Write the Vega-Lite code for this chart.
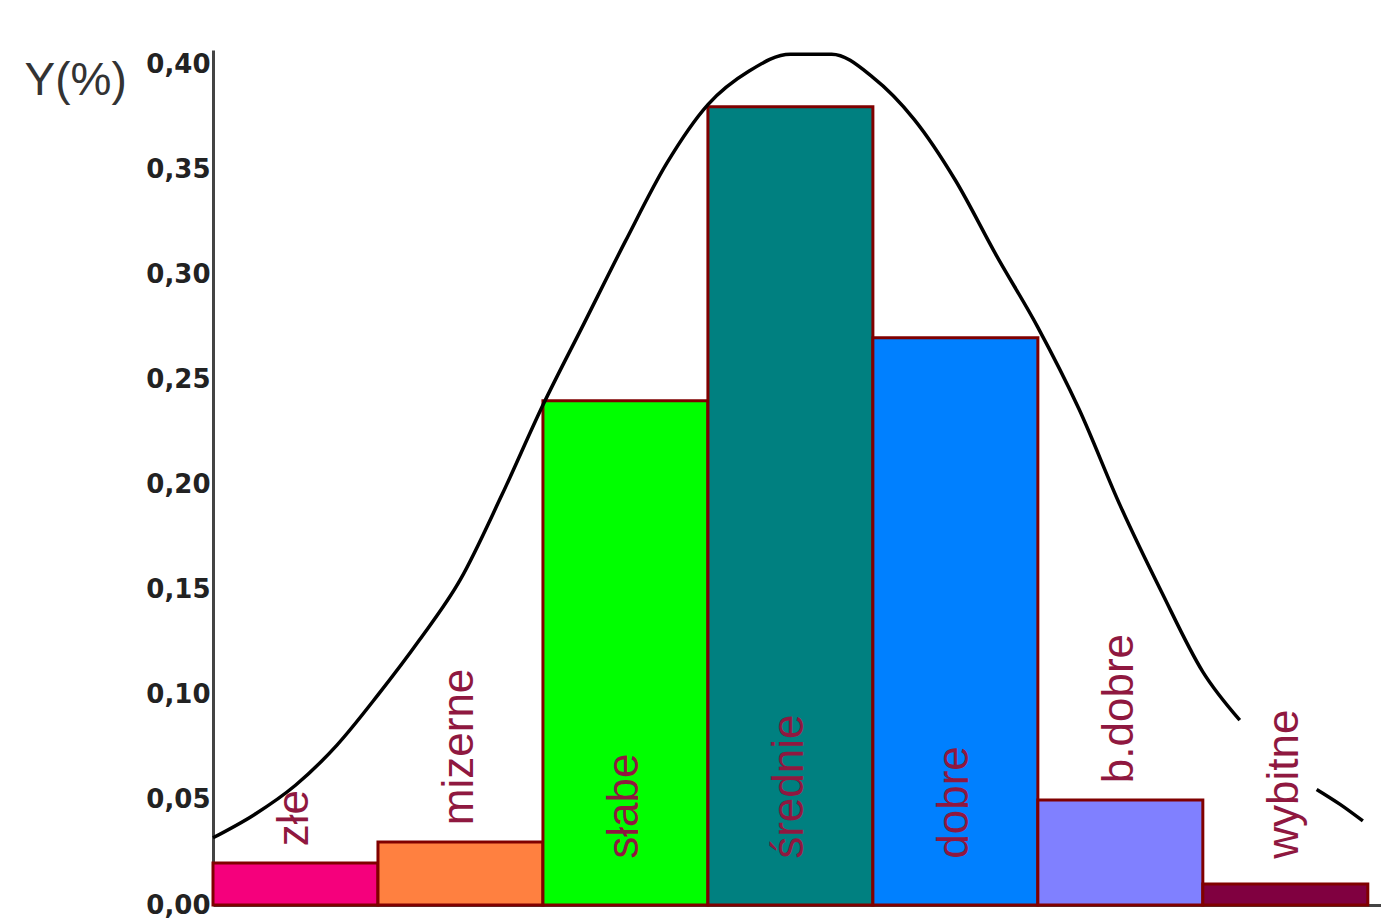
{
  "$schema": "https://vega.github.io/schema/vega-lite/v6.json",
  "width": 1168,
  "height": 855,
  "autosize": "none",
  "padding": {"left": 213, "top": 50, "right": 0, "bottom": 14},
  "background": "white",
  "config": {"view": {"stroke": null}},
  "datasets": {
    "oceny": [
      {"ocena": "złe", "start": 0, "end": 1, "udzial": 0.02},
      {"ocena": "mizerne", "start": 1, "end": 2, "udzial": 0.03},
      {"ocena": "słabe", "start": 2, "end": 3, "udzial": 0.24},
      {"ocena": "średnie", "start": 3, "end": 4, "udzial": 0.38},
      {"ocena": "dobre", "start": 4, "end": 5, "udzial": 0.27},
      {"ocena": "b.dobre", "start": 5, "end": 6, "udzial": 0.05},
      {"ocena": "wybitne", "start": 6, "end": 7, "udzial": 0.01}
    ],
    "krzywa": [
      {"seg": "a", "x": 0.0, "y": 0.032},
      {"seg": "a", "x": 0.25, "y": 0.043},
      {"seg": "a", "x": 0.5, "y": 0.057},
      {"seg": "a", "x": 0.75, "y": 0.076},
      {"seg": "a", "x": 1.0, "y": 0.1},
      {"seg": "a", "x": 1.25, "y": 0.126},
      {"seg": "a", "x": 1.5, "y": 0.155},
      {"seg": "a", "x": 1.75, "y": 0.195},
      {"seg": "a", "x": 2.0, "y": 0.238},
      {"seg": "a", "x": 2.25, "y": 0.277},
      {"seg": "a", "x": 2.5, "y": 0.316},
      {"seg": "a", "x": 2.75, "y": 0.353},
      {"seg": "a", "x": 3.0, "y": 0.381},
      {"seg": "a", "x": 3.25, "y": 0.397},
      {"seg": "a", "x": 3.5, "y": 0.405},
      {"seg": "a", "x": 3.75, "y": 0.405},
      {"seg": "a", "x": 4.0, "y": 0.394},
      {"seg": "a", "x": 4.25, "y": 0.374},
      {"seg": "a", "x": 4.5, "y": 0.345},
      {"seg": "a", "x": 4.75, "y": 0.309},
      {"seg": "a", "x": 5.0, "y": 0.275},
      {"seg": "a", "x": 5.25, "y": 0.236},
      {"seg": "a", "x": 5.5, "y": 0.19},
      {"seg": "a", "x": 5.75, "y": 0.149},
      {"seg": "a", "x": 6.0, "y": 0.111},
      {"seg": "a", "x": 6.224, "y": 0.088},
      {"seg": "b", "x": 6.69, "y": 0.055},
      {"seg": "b", "x": 6.83, "y": 0.048},
      {"seg": "b", "x": 6.97, "y": 0.04}
    ]
  },
  "layer": [
    {
      "data": {"name": "oceny"},
      "mark": {"type": "rect", "stroke": "#800000", "strokeWidth": 3},
      "encoding": {
        "x": {
          "field": "start",
          "type": "quantitative",
          "title": null,
          "scale": {"domain": [0, 7.08], "nice": false, "zero": false},
          "axis": {"labels": false, "ticks": false, "grid": false, "domainColor": "#444", "domainWidth": 3}
        },
        "x2": {"field": "end"},
        "y": {
          "field": "udzial",
          "type": "quantitative",
          "title": "Y(%)",
          "scale": {"domain": [0, 0.407], "nice": false},
          "axis": {
            "values": [0, 0.05, 0.1, 0.15, 0.2, 0.25, 0.3, 0.35, 0.4],
            "labelExpr": "replace(format(datum.value, '.2f'), '.', ',')",
            "labelFont": "DejaVu Sans",
            "labelFontWeight": "bold",
            "labelFontSize": 26,
            "labelColor": "#222",
            "labelPadding": 3,
            "ticks": false,
            "grid": false,
            "domainColor": "#444",
            "domainWidth": 3,
            "titleAngle": 0,
            "titleAlign": "left",
            "titleBaseline": "middle",
            "titleX": -189,
            "titleY": 30,
            "titleFont": "Liberation Sans",
            "titleFontSize": 46,
            "titleFontWeight": "normal",
            "titleColor": "#333"
          }
        },
        "y2": {"datum": 0},
        "color": {
          "field": "ocena",
          "type": "nominal",
          "scale": {
            "domain": ["złe", "mizerne", "słabe", "średnie", "dobre", "b.dobre", "wybitne"],
            "range": ["#f5007c", "#ff8040", "#00ff00", "#008080", "#0080ff", "#8080ff", "#800040"]
          },
          "legend": null
        }
      }
    },
    {
      "data": {"name": "oceny"},
      "transform": [
        {"calculate": "(datum.start + datum.end) / 2", "as": "srodek"},
        {"calculate": "datum.udzial > 0.1 ? 0.022 : max(datum.udzial + 0.008, 0.022)", "as": "poz"}
      ],
      "mark": {
        "type": "text",
        "angle": 270,
        "align": "left",
        "baseline": "middle",
        "font": "Liberation Sans",
        "fontSize": 44,
        "color": "#8f1840"
      },
      "encoding": {
        "x": {"field": "srodek", "type": "quantitative", "title": null},
        "y": {"field": "poz", "type": "quantitative", "title": "Y(%)"},
        "text": {"field": "ocena"}
      }
    },
    {
      "data": {"name": "krzywa"},
      "mark": {"type": "line", "color": "black", "strokeWidth": 3.5, "interpolate": "monotone"},
      "encoding": {
        "x": {"field": "x", "type": "quantitative", "title": null},
        "y": {"field": "y", "type": "quantitative", "title": "Y(%)"},
        "detail": {"field": "seg"}
      }
    }
  ]
}
